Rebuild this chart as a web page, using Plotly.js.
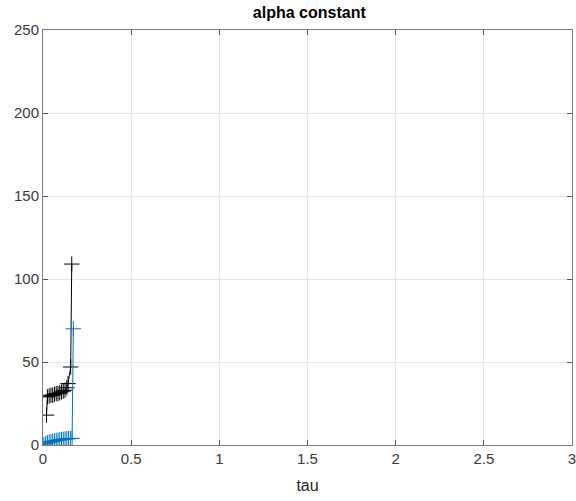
<!DOCTYPE html>
<html><head><meta charset="utf-8">
<script src="https://cdn.plot.ly/plotly-3.0.1.min.js"></script>
<style>body{margin:0;background:#fff}#chart{width:576px;height:501px}</style>
</head><body><div id="chart"></div>
<script>
const blackTau = [0.02, 0.025, 0.035, 0.045, 0.055, 0.065, 0.075, 0.085, 0.095, 0.105, 0.115, 0.125, 0.135, 0.142, 0.157, 0.163];
const blackVal = [18, 29, 29.5, 30, 30, 30.5, 31, 31, 31.5, 32, 32.5, 33, 34.5, 37, 47, 109];
const blueTau = [0.005, 0.015, 0.025, 0.035, 0.045, 0.055, 0.065, 0.075, 0.085, 0.095, 0.105, 0.115, 0.125, 0.135, 0.145, 0.155, 0.165, 0.172];
const blueVal = [0, 0.8, 1.3, 1.7, 2.0, 2.3, 2.5, 2.7, 2.9, 3.1, 3.3, 3.4, 3.6, 3.7, 3.8, 3.9, 4.0, 70];
const xTicks = [0, 0.5, 1, 1.5, 2, 2.5, 3];
const yTicks = [0, 50, 100, 150, 200, 250];

const axisCommon = {
  showline: true, mirror: 'ticks', linecolor: '#7a7a7a', linewidth: 1,
  ticks: 'inside', ticklen: 5, tickcolor: '#555555',
  showgrid: true, gridcolor: '#e6e6e6', gridwidth: 1, zeroline: false,
  ticklabeloverflow: 'allow',
  tickfont: {family: 'Liberation Sans, Arial', size: 15, color: '#3a3a3a'}
};
const traces = [
  {x: blackTau, y: blackVal, mode: 'lines+markers', type: 'scatter',
   line: {color: '#000000', width: 1},
   marker: {symbol: 'cross-thin', size: 11, line: {color: '#000000', width: 1}}},
  {x: blueTau, y: blueVal, mode: 'lines+markers', type: 'scatter',
   line: {color: '#0072BD', width: 1},
   marker: {symbol: 'cross-thin', size: 11, line: {color: '#0072BD', width: 1}}}
];
const layout = {
  width: 576, height: 501, showlegend: false,
  paper_bgcolor: '#ffffff', plot_bgcolor: '#ffffff',
  margin: {l: 43, r: 4, t: 30, b: 56},
  title: {text: '<b>alpha constant</b>', x: 0.537, xanchor: 'center', y: 0.976, yanchor: 'middle',
          font: {family: 'Liberation Sans, Arial', size: 16, color: '#000'}},
  xaxis: Object.assign({}, axisCommon, {range: [0, 3], tickvals: xTicks, ticktext: xTicks.map(String),
    automargin: false,
    title: {text: 'tau', standoff: 13, font: {family: 'Liberation Sans, Arial', size: 16, color: '#262626'}}}),
  yaxis: Object.assign({}, axisCommon, {range: [0, 250], tickvals: yTicks, ticktext: yTicks.map(String), automargin: false})
};
Plotly.newPlot('chart', traces, layout, {displayModeBar: false, staticPlot: true});
</script></body></html>
